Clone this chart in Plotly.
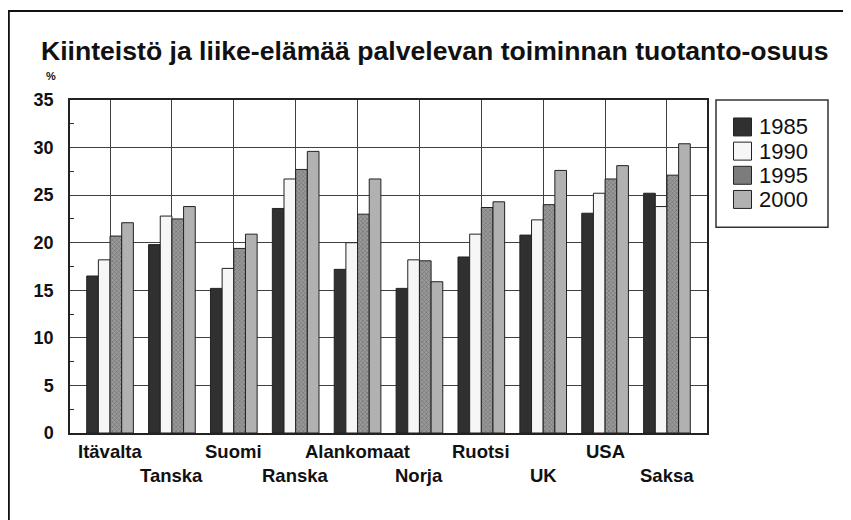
import plotly.graph_objects as go

# Tuotanto-osuus (%) maittain ja vuosittain
countries = ["Itävalta", "Tanska", "Suomi", "Ranska", "Alankomaat",
             "Norja", "Ruotsi", "UK", "USA", "Saksa"]
years = ["1985", "1990", "1995", "2000"]

v1985 = [16.5, 19.8, 15.2, 23.6, 17.2, 15.2, 18.5, 20.8, 23.1, 25.2]
v1990 = [18.2, 22.8, 17.3, 26.7, 20.0, 18.2, 20.9, 22.4, 25.2, 23.8]
v1995 = [20.7, 22.5, 19.4, 27.7, 23.0, 18.1, 23.7, 24.0, 26.7, 27.1]
v2000 = [22.1, 23.8, 20.9, 29.6, 26.7, 15.9, 24.3, 27.6, 28.1, 30.4]
values = [v1985, v1990, v1995, v2000]

fills = ["#303030", "#f6f6f6", "#7c7c7c", "#b1b1b1"]
FONT = "Liberation Sans, Arial, Helvetica, sans-serif"

fig = go.Figure()
for i, (year, vals) in enumerate(zip(years, values)):
    marker = dict(color=fills[i], line=dict(color="#222", width=1))
    if year == "1995":
        marker["pattern"] = dict(shape="x", size=3, solidity=0.45,
                                 fgcolor="#555555", bgcolor="#9a9a9a")
    fig.add_trace(go.Bar(x=countries, y=vals, name=year, marker=marker,
                         showlegend=False))

# the page puts the figure 8px in from the top-left corner,
# so screen positions below are shifted by OFF
OFF = 8
FW, FH = 851 - OFF, 520 - OFF
# plot area in screen pixels: x 70..707, y 99.5..433
L, R, T, B = 70, 707, 99.5, 433
W, H = R - L, B - T


def px_x(p):
    return (p - L) / W


def px_y(p):
    return (B - p) / H


# category labels, alternating rows
for i, name in enumerate(countries):
    fig.add_annotation(x=name, xref="x", y=px_y(452 if i % 2 == 0 else 476),
                       yref="paper", text=f"<b>{name}</b>", showarrow=False,
                       xanchor="center", yanchor="middle",
                       font=dict(size=18.5, color="#111", family=FONT))

# title and unit
fig.add_annotation(x=px_x(39), y=px_y(50), xref="paper", yref="paper",
                   text="<b>Kiinteistö ja liike-elämää palvelevan toiminnan tuotanto-osuus</b>",
                   showarrow=False, xanchor="left", yanchor="middle",
                   font=dict(size=26.6, color="#111", family=FONT))
fig.add_annotation(x=px_x(44), y=px_y(75), xref="paper", yref="paper",
                   text="<b>%</b>", showarrow=False, xanchor="left", yanchor="middle",
                   font=dict(size=11, color="#111", family=FONT))

# legend drawn by hand to get the big swatches
shapes = [dict(type="rect", xref="paper", yref="paper",
               x0=px_x(716), x1=px_x(828), y0=px_y(227), y1=px_y(99.5),
               line=dict(color="#333", width=1.5), fillcolor="white")]
for i, year in enumerate(years):
    cy = 126.5 + i * 24.2
    shapes.append(dict(type="rect", xref="paper", yref="paper",
                       x0=px_x(733.5), x1=px_x(751.5), y0=px_y(cy + 9), y1=px_y(cy - 9),
                       line=dict(color="#222", width=1), fillcolor=fills[i]))
    fig.add_annotation(x=px_x(757), y=px_y(cy), xref="paper", yref="paper",
                       text=year, showarrow=False, xanchor="left", yanchor="middle",
                       font=dict(size=22, color="#111", family=FONT))

# outer frame (only top and left edge visible)
shapes.append(dict(type="rect", xref="paper", yref="paper",
                   x0=px_x(8.8), x1=px_x(900), y0=px_y(600), y1=px_y(10.3),
                   line=dict(color="#111", width=2)))

fig.update_layout(
    width=FW, height=FH,
    margin=dict(l=L - OFF, r=851 - R, t=T - OFF, b=520 - B),
    paper_bgcolor="white", plot_bgcolor="white",
    barmode="group", bargap=0.246, bargroupgap=0,
    font=dict(family=FONT, color="#111"),
    shapes=shapes,
)
fig.update_xaxes(range=[-0.647, 9.647], showticklabels=False, ticks="",
                 showgrid=True, gridcolor="#404040", gridwidth=1,
                 showline=True, linecolor="#222", linewidth=1.5, mirror=True)
fig.update_yaxes(range=[0, 35], dtick=5, showgrid=True, gridcolor="#404040",
                 gridwidth=1, zeroline=False, ticks="",
                 tickfont=dict(size=18, color="#111", family=FONT, weight="bold"),
                 ticklabelstandoff=11,
                 minor=dict(dtick=2.5, ticks="inside", ticklen=4, tickcolor="#333",
                            showgrid=False),
                 showline=True, linecolor="#222", linewidth=1.5, mirror=True)

fig.write_html("out.html")
